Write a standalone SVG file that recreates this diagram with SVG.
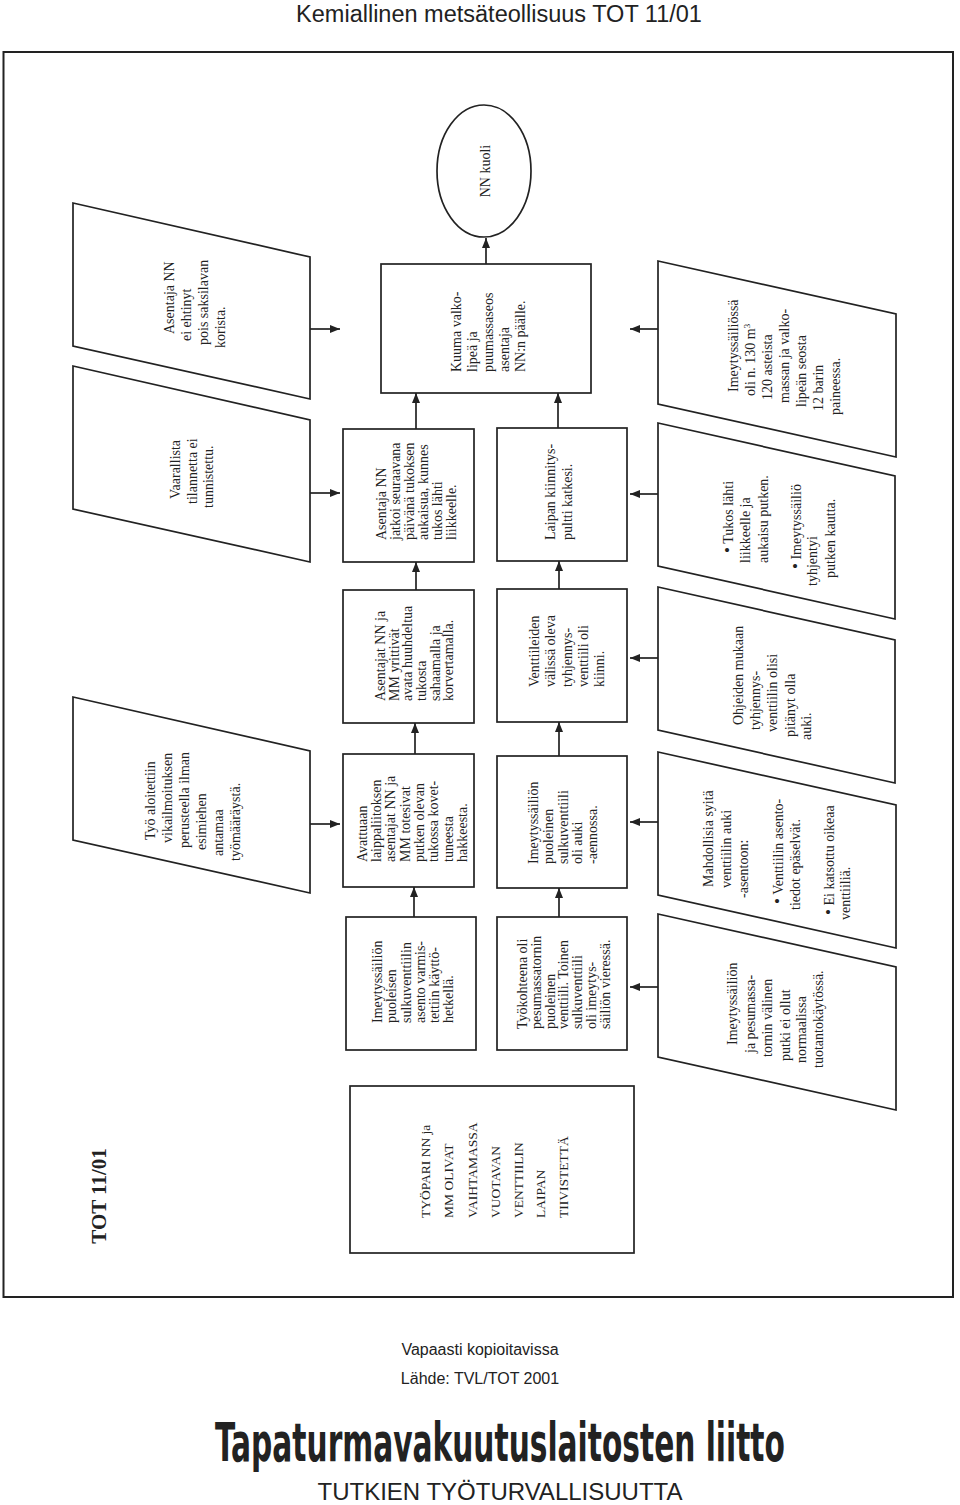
<svg xmlns="http://www.w3.org/2000/svg" width="960" height="1505" viewBox="0 0 960 1505">
<style>
.t{font-family:'Liberation Serif','Times New Roman',serif;font-size:14px;fill:#222}
.s{fill:#fff;stroke:#222;stroke-width:1.7}
.c{stroke:#222;stroke-width:1.7;fill:none;marker-end:url(#ah)}
.h{font-family:'Liberation Sans',Arial,sans-serif;fill:#222}
.b{font-size:17px}
</style>
<defs>
<marker id="ah" viewBox="0 0 10 8" refX="10" refY="4" markerWidth="10" markerHeight="8" markerUnits="userSpaceOnUse" orient="auto"><path d="M0,0 L10,4 L0,8 z" fill="#222"/></marker>
</defs>
<rect width="960" height="1505" fill="#fff"/>
<text class="h" x="499" y="22" font-size="23.5" text-anchor="middle">Kemiallinen metsäteollisuus TOT 11/01</text>
<rect x="3.5" y="52" width="949.5" height="1245" fill="none" stroke="#222" stroke-width="2"/>

<g id="connectors">
<line class="c" x1="486" y1="264" x2="486" y2="238"/>
<line class="c" x1="416" y1="429" x2="416" y2="393"/>
<line class="c" x1="558" y1="428" x2="558" y2="393"/>
<line class="c" x1="416" y1="590" x2="416" y2="562"/>
<line class="c" x1="559" y1="589" x2="559" y2="561"/>
<line class="c" x1="415" y1="754" x2="415" y2="723"/>
<line class="c" x1="559" y1="756" x2="559" y2="722"/>
<line class="c" x1="414" y1="917" x2="414" y2="887"/>
<line class="c" x1="559" y1="917" x2="559" y2="888"/>
<line class="c" x1="310" y1="329" x2="340" y2="329"/>
<line class="c" x1="310" y1="493" x2="340" y2="493"/>
<line class="c" x1="310" y1="824" x2="340" y2="824"/>
<line class="c" x1="658" y1="329" x2="630" y2="329"/>
<line class="c" x1="658" y1="494" x2="630" y2="494"/>
<line class="c" x1="658" y1="658" x2="630" y2="658"/>
<line class="c" x1="658" y1="822" x2="630" y2="822"/>
<line class="c" x1="658" y1="987" x2="630" y2="987"/>
</g>

<g id="n-kuoli">
<ellipse class="s" cx="484" cy="171" rx="47" ry="66"/>
<g transform="rotate(-90)" class="t"><text x="-171" y="490" text-anchor="middle">NN kuoli</text></g>
</g>

<g id="n-kuuma">
<rect class="s" x="381" y="264" width="210" height="129"/>
<g transform="rotate(-90)" class="t">
<text x="-372" y="461">Kuuma valko-</text>
<text x="-372" y="477">lipeä ja</text>
<text x="-372" y="493">puumassaseos</text>
<text x="-372" y="509">asentaja</text>
<text x="-372" y="525">NN:n päälle.</text>
</g>
</g>

<g id="n-jatkoi">
<rect class="s" x="343" y="429" width="131" height="133"/>
<g transform="rotate(-90)" class="t">
<text x="-540" y="386">Asentaja NN</text>
<text x="-540" y="400">jatkoi seuraavana</text>
<text x="-540" y="414">päivänä tukoksen</text>
<text x="-540" y="428">aukaisua, kunnes</text>
<text x="-540" y="442">tukos lähti</text>
<text x="-540" y="456">liikkeelle.</text>
</g>
</g>

<g id="n-laipan">
<rect class="s" x="497" y="428" width="130" height="133"/>
<g transform="rotate(-90)" class="t">
<text x="-540" y="555">Laipan kiinnitys-</text>
<text x="-540" y="572">pultti katkesi.</text>
</g>
</g>

<g id="n-yrittivat">
<rect class="s" x="343" y="590" width="131" height="133"/>
<g transform="rotate(-90)" class="t">
<text x="-701" y="385">Asentajat NN ja</text>
<text x="-701" y="399">MM yrittivät</text>
<text x="-701" y="412">avata huuhdeltua</text>
<text x="-701" y="426">tukosta</text>
<text x="-701" y="440">sahaamalla ja</text>
<text x="-701" y="453">korvertamalla.</text>
</g>
</g>

<g id="n-venttiileiden">
<rect class="s" x="497" y="589" width="130" height="133"/>
<g transform="rotate(-90)" class="t">
<text x="-687" y="539">Venttiileiden</text>
<text x="-687" y="555">välissä oleva</text>
<text x="-687" y="572">tyhjennys-</text>
<text x="-687" y="588">venttiili oli</text>
<text x="-687" y="604">kiinni.</text>
</g>
</g>

<g id="n-avattuaan">
<rect class="s" x="343" y="754" width="131" height="133"/>
<g transform="rotate(-90)" class="t">
<text x="-862" y="367">Avattuaan</text>
<text x="-862" y="381">laippaliitoksen</text>
<text x="-862" y="395">asentajat NN ja</text>
<text x="-862" y="410">MM totesivat</text>
<text x="-862" y="424">putken olevan</text>
<text x="-862" y="438">tukossa kovet-</text>
<text x="-862" y="453">tuneesta</text>
<text x="-862" y="467">hakkeesta.</text>
</g>
</g>

<g id="n-auki">
<rect class="s" x="497" y="756" width="130" height="132"/>
<g transform="rotate(-90)" class="t">
<text x="-864" y="538">Imeytyssäiliön</text>
<text x="-864" y="553">puoleinen</text>
<text x="-864" y="568">sulkuventtiili</text>
<text x="-864" y="582">oli auki</text>
<text x="-864" y="597">-aennossa.</text>
</g>
</g>

<g id="n-varmistettiin">
<rect class="s" x="346" y="917" width="130" height="133"/>
<g transform="rotate(-90)" class="t">
<text x="-1023" y="382">Imeytyssäiliön</text>
<text x="-1023" y="396">puoleisen</text>
<text x="-1023" y="411">sulkuventtiilin</text>
<text x="-1023" y="425">asento varmis-</text>
<text x="-1023" y="439">tettiin käyttö-</text>
<text x="-1023" y="453">hetkellä.</text>
</g>
</g>

<g id="n-tyokohteena">
<rect class="s" x="497" y="917" width="130" height="133"/>
<g transform="rotate(-90)" class="t">
<text x="-1029" y="527">Työkohteena oli</text>
<text x="-1029" y="541">pesumassatornin</text>
<text x="-1029" y="555">puoleinen</text>
<text x="-1029" y="568">venttiili. Toinen</text>
<text x="-1029" y="582">sulkuventtiili</text>
<text x="-1029" y="596">oli imeytys-</text>
<text x="-1029" y="610">säiliön vieressä.</text>
</g>
</g>

<g id="n-tyopari">
<rect class="s" x="350" y="1086" width="284" height="167"/>
<g transform="rotate(-90)" class="t" style="font-size:13.5px">
<text x="-1218" y="430">TYÖPARI NN ja</text>
<text x="-1218" y="453">MM OLIVAT</text>
<text x="-1218" y="477">VAIHTAMASSA</text>
<text x="-1218" y="500">VUOTAVAN</text>
<text x="-1218" y="523">VENTTIILIN</text>
<text x="-1218" y="545">LAIPAN</text>
<text x="-1218" y="568">TIIVISTETTÄ</text>
</g>
</g>

<g id="n-ei-ehtinyt">
<polygon class="s" points="73,203 310,257 310,399 73,346"/>
<g transform="rotate(-90)" class="t">
<text x="-334" y="174">Asentaja NN</text>
<text x="-341" y="191">ei ehtinyt</text>
<text x="-345" y="208">pois saksilavan</text>
<text x="-348" y="225">korista.</text>
</g>
</g>

<g id="n-vaarallista">
<polygon class="s" points="73,366 310,420 310,562 73,509"/>
<g transform="rotate(-90)" class="t">
<text x="-499" y="180">Vaarallista</text>
<text x="-504" y="197">tilannetta ei</text>
<text x="-508" y="213">tunnistettu.</text>
</g>
</g>

<g id="n-tyo-aloitettiin">
<polygon class="s" points="73,697 310,751 310,893 73,840"/>
<g transform="rotate(-90)" class="t">
<text x="-840" y="155">Työ aloitettiin</text>
<text x="-843" y="172">vikailmoituksen</text>
<text x="-848" y="189">perusteella ilman</text>
<text x="-850" y="206">esimiehen</text>
<text x="-856" y="223">antamaa</text>
<text x="-861" y="240">työmääräystä.</text>
</g>
</g>

<g id="n-imeytyssailiossa">
<polygon class="s" points="658,261 896,314 896,457 658,404"/>
<g transform="rotate(-90)" class="t">
<text x="-392" y="738">Imeytyssäiliössä</text>
<text x="-396" y="755">oli n. 130 m<tspan dy="-5" font-size="9">3</tspan></text>
<text x="-400" y="772">120 asteista</text>
<text x="-403" y="789">massan ja valko-</text>
<text x="-407" y="806">lipeän seosta</text>
<text x="-411" y="823">12 barin</text>
<text x="-415" y="840">paineessa.</text>
</g>
</g>

<g id="n-tukos">
<polygon class="s" points="658,423 895,476 895,619 658,566"/>
<g transform="rotate(-90)" class="t">
<text x="-553" y="733"><tspan class="b">•</tspan> Tukos lähti</text>
<text x="-563" y="750">liikkeelle ja</text>
<text x="-563" y="768">aukaisu putken.</text>
<text x="-569" y="801"><tspan class="b">•</tspan> Imeytyssäiliö</text>
<text x="-586" y="817">tyhjentyi</text>
<text x="-578" y="835">putken kautta.</text>
</g>
</g>

<g id="n-ohjeiden">
<polygon class="s" points="658,587 895,640 895,783 658,730"/>
<g transform="rotate(-90)" class="t">
<text x="-725" y="743">Ohjeiden mukaan</text>
<text x="-730" y="760">tyhjennys-</text>
<text x="-732" y="777">venttiilin olisi</text>
<text x="-737" y="795">pitänyt olla</text>
<text x="-740" y="811">auki.</text>
</g>
</g>

<g id="n-mahdollisia">
<polygon class="s" points="658,752 896,805 896,948 658,895"/>
<g transform="rotate(-90)" class="t">
<text x="-887" y="713">Mahdollisia syitä</text>
<text x="-888" y="731">venttiilin auki</text>
<text x="-898" y="748">-asentoon:</text>
<text x="-904" y="783"><tspan class="b">•</tspan> Venttiilin asento-</text>
<text x="-910" y="800">tiedot epäselvät.</text>
<text x="-915" y="834"><tspan class="b">•</tspan> Ei katsottu oikeaa</text>
<text x="-920" y="850">venttiiliä.</text>
</g>
</g>

<g id="n-putki">
<polygon class="s" points="658,914 896,967 896,1110 658,1057"/>
<g transform="rotate(-90)" class="t">
<text x="-1045" y="737">Imeytyssäiliön</text>
<text x="-1053" y="755">ja pesumassa-</text>
<text x="-1057" y="772">tornin välinen</text>
<text x="-1061" y="790">putki ei ollut</text>
<text x="-1063" y="806">normaalissa</text>
<text x="-1068" y="823">tuotantokäytössä.</text>
</g>
</g>

<g id="tot-label" transform="rotate(-90)">
<text x="-1196" y="106" text-anchor="middle" style="font-family:'Liberation Serif','Times New Roman',serif;font-size:21px;font-weight:bold;fill:#222">TOT 11/01</text>
</g>

<g id="footer">
<text class="h" x="480" y="1355" font-size="16" text-anchor="middle">Vapaasti kopioitavissa</text>
<text class="h" x="480" y="1384" font-size="16" text-anchor="middle">Lähde: TVL/TOT 2001</text>
<text transform="translate(500,1461) scale(0.55,1)" x="0" y="0" text-anchor="middle" textLength="1036" lengthAdjust="spacingAndGlyphs" style="font-family:'DejaVu Sans Condensed','DejaVu Sans',sans-serif;font-weight:bold;font-size:54px;fill:#222">Tapaturmavakuutuslaitosten liitto</text>
<text class="h" x="500" y="1500" font-size="24" text-anchor="middle">TUTKIEN TYÖTURVALLISUUTTA</text>
</g>
</svg>
